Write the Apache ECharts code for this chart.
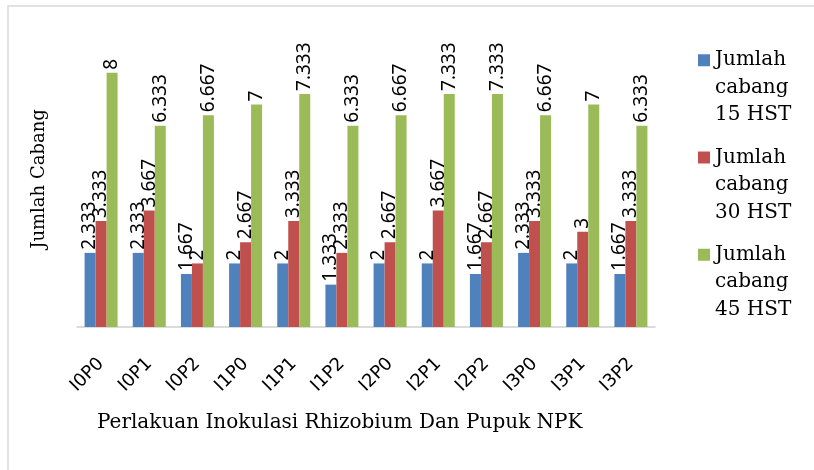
<!DOCTYPE html>
<html>
<head>
<meta charset="utf-8">
<script src="https://cdn.jsdelivr.net/npm/echarts@6/dist/echarts.min.js"></script>
<style>
  html, body { margin: 0; padding: 0; background: #fff; }
  #chart { width: 814px; height: 470px; }
</style>
</head>
<body>
<div id="chart"></div>
<script>
// kategori perlakuan
const categories = ['I0P0', 'I0P1', 'I0P2', 'I1P0', 'I1P1', 'I1P2', 'I2P0', 'I2P1', 'I2P2', 'I3P0', 'I3P1', 'I3P2'];
// nilai tiap seri
const cabang15 = [2.333, 2.333, 1.667, 2, 2, 1.333, 2, 2, 1.667, 2.333, 2, 1.667];
const cabang30 = [3.333, 3.667, 2, 2.667, 3.333, 2.333, 2.667, 3.667, 2.667, 3.333, 3, 3.333];
const cabang45 = [8, 6.333, 6.667, 7, 7.333, 6.333, 6.667, 7.333, 7.333, 6.667, 7, 6.333];
const seriesNames = ['Jumlah cabang 15 HST', 'Jumlah cabang 30 HST', 'Jumlah cabang 45 HST'];
const colors = ['#4f81bd', '#c0504d', '#9bbb59'];

const chart = echarts.init(document.getElementById('chart'));

// label angka di atas batang, diputar tegak
function barSeries(name, data, color) {
    return {
        name: name,
        type: 'bar',
        data: data,
        barWidth: 11,
        barGap: '0%',
        itemStyle: { color: color },
        label: {
            show: true,
            position: 'top',
            rotate: 90,
            align: 'left',
            verticalAlign: 'middle',
            distance: 3,
            color: '#000',
            fontFamily: 'Noto Sans',
            fontSize: 19
        }
    };
}

// satu legend per seri, ikon sejajar baris pertama
const legendTops = [-8.5, 88.75, 186];
const legends = seriesNames.map((name, i) => ({
    data: [name],
    orient: 'vertical',
    left: 698,
    top: legendTops[i],
    padding: 0,
    itemWidth: 12,
    itemHeight: 12,
    icon: 'rect',
    formatter: function (n) {
        return '\n\n' + n.replace(' cabang ', '\ncabang\n');
    },
    textStyle: {
        fontFamily: 'DejaVu Serif',
        fontSize: 20,
        lineHeight: 27.5,
        color: '#000'
    }
}));

chart.setOption({
    animation: false,
    graphic: [{
        type: 'rect',
        shape: { x: 8, y: 6, width: 900, height: 600 },
        style: { fill: 'none', stroke: '#d9d9d9', lineWidth: 1.5 },
        silent: true
    }],
    title: {
        text: 'Perlakuan Inokulasi Rhizobium Dan Pupuk NPK',
        left: 97,
        top: 413,
        padding: 0,
        textStyle: {
            fontFamily: 'DejaVu Serif',
            fontSize: 20,
            fontWeight: 'normal',
            color: '#000'
        }
    },
    legend: legends,
    grid: {
        left: 77,
        right: 159,
        top: 41,
        bottom: 143,
        containLabel: false
    },
    xAxis: {
        type: 'category',
        data: categories,
        axisLine: { lineStyle: { color: '#d0d0d0', width: 1.5 } },
        axisTick: { show: false },
        axisLabel: {
            rotate: 45,
            margin: 34,
            color: '#000',
            fontFamily: 'DejaVu Sans',
            fontSize: 18,
            interval: 0
        }
    },
    yAxis: {
        type: 'value',
        min: 0,
        max: 9,
        interval: 1,
        name: 'Jumlah Cabang',
        nameLocation: 'middle',
        nameGap: 29,
        nameTextStyle: {
            fontFamily: 'DejaVu Serif',
            fontSize: 18,
            color: '#000',
            padding: [0, 0, 0, 10]
        },
        axisLine: { show: false },
        axisTick: { show: false },
        axisLabel: { show: false },
        splitLine: { show: false }
    },
    series: [
        barSeries(seriesNames[0], cabang15, colors[0]),
        barSeries(seriesNames[1], cabang30, colors[1]),
        barSeries(seriesNames[2], cabang45, colors[2])
    ]
});

window.addEventListener('resize', () => {
    chart.resize();
});
</script>
</body>
</html>
